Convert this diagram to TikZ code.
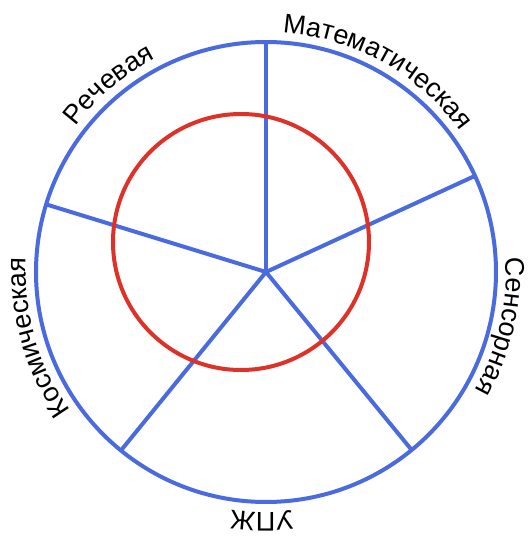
\documentclass[tikz,border=0pt]{standalone}
\usepackage{fontspec}
\setmainfont{Liberation Sans}
\usetikzlibrary{decorations.text}
\definecolor{ringblue}{RGB}{74,106,224}
\definecolor{ringred}{RGB}{222,50,40}
\newcommand{\lblf}{\fontsize{27}{31}\selectfont}
\begin{document}
\begin{tikzpicture}[x=1pt,y=1pt,
  bluering/.style={draw=ringblue, line width=4pt},
  redring/.style={draw=ringred, line width=4pt},
  spoke/.style={draw=ringblue, line width=4pt}]
\useasboundingbox (-266,-264) rectangle (266,272);
\coordinate (hub) at (0,0);
\coordinate (s1) at (90:230);
\coordinate (s2) at (24.7:230);
\coordinate (s3) at (-50.7:230);
\coordinate (s4) at (-129.1:230);
\coordinate (s5) at (162.9:230);
\foreach \s in {s1,s2,s3,s4,s5} \path[spoke] (hub) -- (\s);
\path[bluering] (hub) circle[radius=230];
\path[redring] (-25,30) circle[radius=128];
% labels along the ring, clockwise
\path[decorate, decoration={text along path, text align=center, text={|\lblf|Математическая}}]
  (101:240) arc[start angle=101, end angle=21, radius=240];
\path[decorate, decoration={text along path, text align=center, text={|\lblf|Речевая}}]
  (160:240) arc[start angle=160, end angle=100, radius=240];
\path[decorate, decoration={text along path, text align=center, text={|\lblf|Сенсорная}}]
  (17:240) arc[start angle=17, end angle=-43, radius=240];
\path[decorate, decoration={text along path, text align=center, text={|\lblf|УПЖ}}]
  (-71:240) arc[start angle=-71, end angle=-111, radius=240];
\path[decorate, decoration={text along path, text align=center, text={|\lblf|Космическая}}]
  (236:240) arc[start angle=236, end angle=156, radius=240];
\end{tikzpicture}
\end{document}
